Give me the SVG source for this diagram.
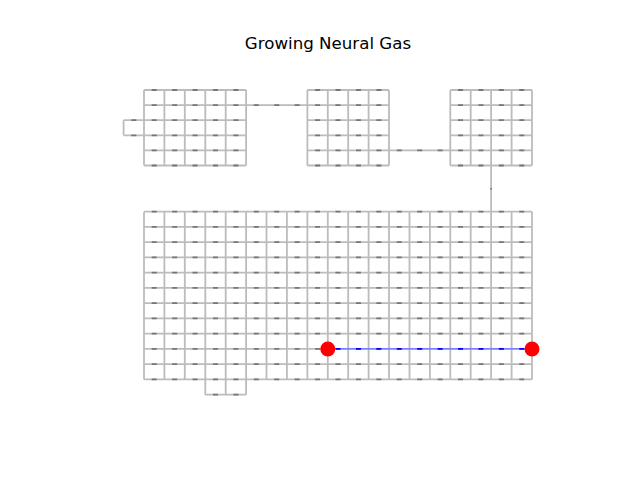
<svg xmlns="http://www.w3.org/2000/svg" xmlns:xlink="http://www.w3.org/1999/xlink" width="640" height="480" viewBox="0 0 640 480">
<style>
.e{fill:none;stroke:#bcbcbc;stroke-width:1.8}
.d{fill:none;stroke:#777777;stroke-width:1.8;stroke-dasharray:5 15.42;stroke-dashoffset:12.71}
.be{fill:none;stroke:#7f7fff;stroke-width:1.8}
.bd{fill:none;stroke:#0000ff;stroke-width:1.8;stroke-dasharray:5 15.42;stroke-dashoffset:12.71}
.tick{fill:none;stroke:#777777;stroke-width:1.8}
.node{fill:#ff0000}
.title{font-family:"DejaVu Sans",sans-serif;font-size:16.67px;fill:#000}
</style>
<defs>
<path id="hz" d="M144 90H246.1M307.4 90H389M450.3 90H532
M144 105.1H389M450.3 105.1H532
M123.6 120.2H246.1M307.4 120.2H389M450.3 120.2H532
M123.6 135.3H246.1M307.4 135.3H389M450.3 135.3H532
M144 150.4H246.1M307.4 150.4H532
M144 165.5H246.1M307.4 165.5H389M450.3 165.5H532
M144 211.7H532M144 226.95H532M144 242.2H532M144 257.45H532M144 272.7H532M144 287.95H532
M144 303.2H532M144 318.45H532M144 333.7H532M144 348.95H327.8M144 364.2H532M144 379.45H532
M205.3 394.7H246.1"/>
<path id="bl" d="M327.8 348.95H532"/>
</defs>
<rect width="640" height="480" fill="#ffffff"/>
<text class="title" x="328" y="49" text-anchor="middle">Growing Neural Gas</text>
<g id="connectors">
<path class="e" d="M123.6 120.2V135.3
M144 90V165.5M164.4 90V165.5M184.8 90V165.5M205.3 90V165.5M225.7 90V165.5M246.1 90V165.5
M307.4 90V165.5M327.8 90V165.5M348.2 90V165.5M368.6 90V165.5M389 90V165.5
M450.3 90V165.5M470.7 90V165.5M491.1 90V165.5M511.6 90V165.5M532 90V165.5
M491.1 165.5V211.7
M144 211.7V379.45M164.4 211.7V379.45M184.8 211.7V379.45M205.3 211.7V394.7M225.7 211.7V394.7M246.1 211.7V394.7
M266.5 211.7V379.45M286.9 211.7V379.45M307.4 211.7V379.45M327.8 211.7V379.45M348.2 211.7V379.45M368.6 211.7V379.45
M389 211.7V379.45M409.5 211.7V379.45M429.9 211.7V379.45M450.3 211.7V379.45M470.7 211.7V379.45M491.1 211.7V379.45
M511.6 211.7V379.45M532 211.7V379.45"/>
<use xlink:href="#hz" class="e"/>
<use xlink:href="#hz" class="d"/>
<path class="tick" d="M491.1 188V189.5"/>
<use xlink:href="#bl" class="be"/>
<use xlink:href="#bl" class="bd"/>
</g>
<g id="node-a"><circle class="node" cx="327.8" cy="348.95" r="7.5"/></g>
<g id="node-b"><circle class="node" cx="532" cy="348.95" r="7.5"/></g>
</svg>
